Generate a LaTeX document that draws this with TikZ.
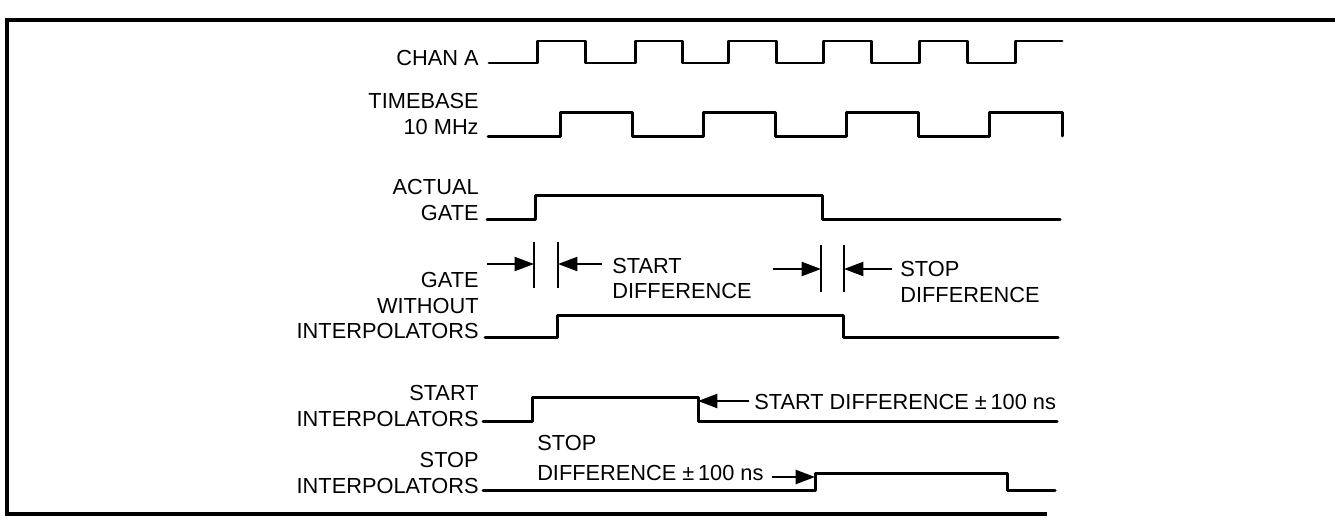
\documentclass[tikz,border=0pt]{standalone}
\usepackage{fontspec}
\setmainfont{Liberation Sans}
\usepackage{tikz}
\usetikzlibrary{arrows.meta}

\begin{document}
\begin{tikzpicture}[%
    x=0.02cm, y=-0.02cm,
    siglabel/.style={anchor=east, align=right, inner sep=0pt, font=\fontsize{12.4}{14.4}\selectfont},
    note/.style={anchor=west, align=left, inner sep=0pt, font=\fontsize{12.4}{14.4}\selectfont},
    wave/.style={line width=1.7pt, line join=round, line cap=round},
    frame/.style={line width=2pt},
    marker/.style={line width=1.1pt},
    arrow/.style={-{Triangle[length=11pt,width=8pt]}, line width=1.1pt}
  ]
  \useasboundingbox (0,0) rectangle (1335,525);

  % Frame
  \draw[frame] (1335,20) -- (7,20) -- (7,514) -- (1047,514);

  % Signal names
  \node[siglabel] (chana) at (479,57.5) {CHAN A};
  \node[siglabel] (timebase) at (479,114) {TIMEBASE\\10 MHz};
  \node[siglabel] (actgate) at (479,200) {ACTUAL\\GATE};
  \node[siglabel] (gatewo) at (479,305.5) {GATE\\WITHOUT\\INTERPOLATORS};
  \node[siglabel] (startint) at (479,406) {START\\INTERPOLATORS};
  \node[siglabel] (stopint) at (479,473) {STOP\\INTERPOLATORS};

  % Waveforms
  \draw[wave] (489,63) -| (537,41) -| (585,63) -| (635,41) -| (682,63) -| (728,41) -| (776,63)
              -| (823,41) -| (871,63) -| (919,41) -| (967,63) -| (1015,41) -- (1062,41);
  \draw[wave] (488,136) -| (560,112) -| (632,136) -| (703,112) -| (775,136) -| (846,112)
              -| (918,136) -| (989,112) -| (1062,136);
  \draw[wave] (487,219) -| (535,195) -| (822,219) -- (1060,219);
  \draw[wave] (485,337) -| (557,315) -| (843,337) -- (1058,337);
  \draw[wave] (483,421) -| (532,397) -| (698,421) -- (1057,421);
  \draw[wave] (483,490) -| (815,473) -| (1007,490) -- (1055,490);

  % Difference markers
  \coordinate (sdL) at (534,264);
  \coordinate (sdR) at (558,264);
  \coordinate (sdLtail) at (487,264);
  \coordinate (sdRtail) at (602,264);
  \coordinate (spL) at (821,269);
  \coordinate (spR) at (844,269);
  \coordinate (spLtail) at (773,269);
  \coordinate (spRtail) at (892,269);
  \draw[marker] (534,242) -- (534,288);
  \draw[marker] (558,242) -- (558,288);
  \draw[marker] (821,245) -- (821,292);
  \draw[marker] (844,245) -- (844,292);

  \node[note] (sdnote) at (612,278.5) {START\\DIFFERENCE};
  \node[note] (spnote) at (900,282) {STOP\\DIFFERENCE};

  \draw[arrow] (sdLtail) -- (sdL);
  \draw[arrow] (sdRtail) -- (sdR);
  \draw[arrow] (spLtail) -- (spL);
  \draw[arrow] (spRtail) -- (spR);

  % Interpolator notes
  \coordinate (sifall) at (698,401);
  \coordinate (sprise) at (815,477);
  \node[note, inner xsep=2.8pt] (sdpm) at (749,402) {START DIFFERENCE ±\,100 ns};
  \node[note] (spstop) at (537,442.5) {STOP};
  \node[note, inner xsep=4.5pt] (sppm) at (529,472.5) {DIFFERENCE ±\,100 ns};

  \draw[arrow] (sdpm.west |- sifall) -- (sifall);
  \draw[arrow] (sppm.east |- sprise) -- (sprise);
\end{tikzpicture}
\end{document}
